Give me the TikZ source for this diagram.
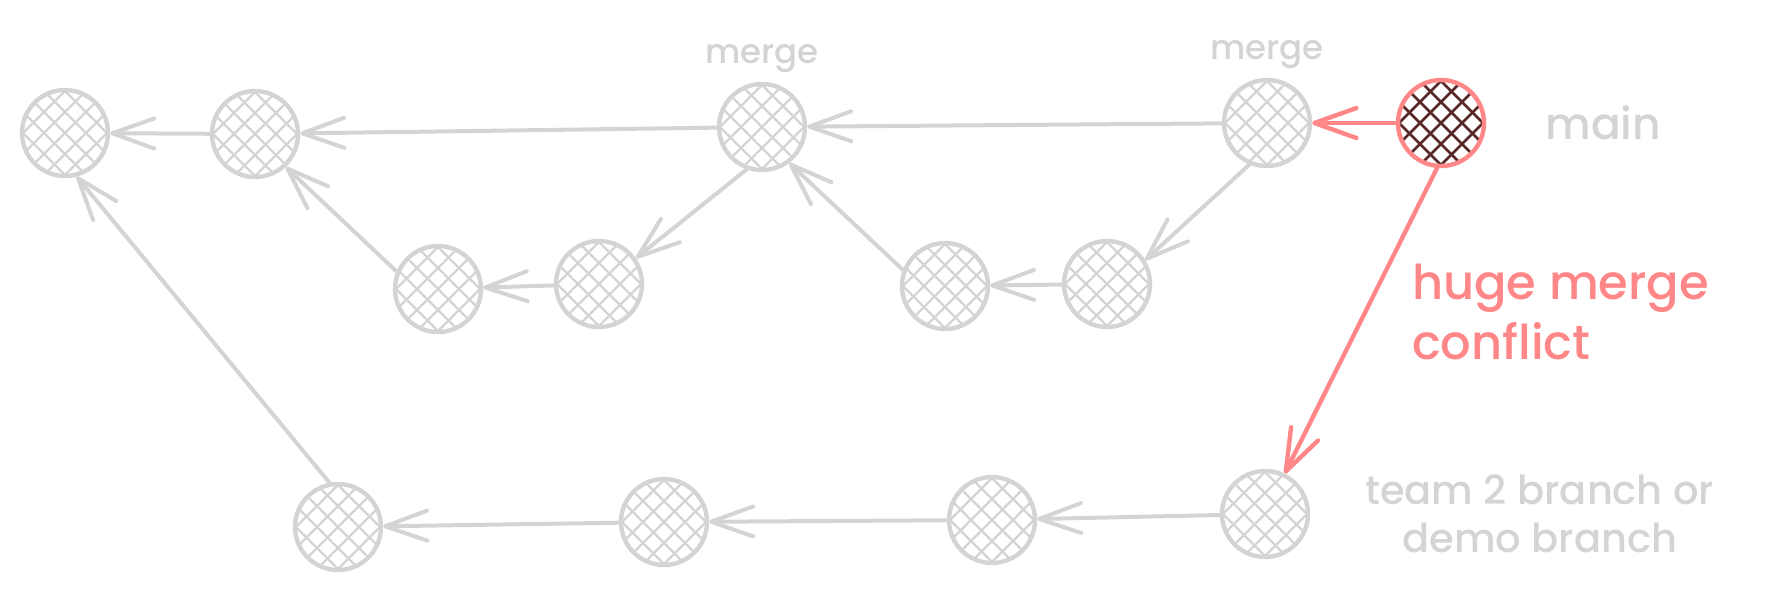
\documentclass[tikz,border=0pt]{standalone}
\usepackage{fontspec}
\setmainfont{Poppins}[UprightFont={* Medium}]
\usetikzlibrary{arrows.meta,positioning}
\definecolor{gitgrey}{RGB}{212,212,212}
\definecolor{gitred}{RGB}{255,135,135}
\definecolor{hatchdark}{RGB}{88,40,40}
% diagonal cross hatching inside a commit circle
\newcommand\commithatch[2]{%
  \foreach \k in {-63,-42,...,63}{
    \draw[#1, line width=#2] ([shift={(\k-60,-60)}]path picture bounding box.center) -- ++(120,120);
    \draw[#1, line width=#2] ([shift={(\k+60,-60)}]path picture bounding box.center) -- ++(-120,120);
  }}
\tikzset{
  commit/.style = {circle, draw=gitgrey, line width=2.2pt, minimum size=43pt,
                   inner sep=0pt, path picture={\commithatch{gitgrey}{1.1pt}}},
  head/.style   = {commit, draw=gitred, path picture={\commithatch{hatchdark}{1.3pt}}},
  lbl/.style    = {text=gitgrey, font=\fontsize{17}{20}\selectfont},
  conflict/.style = {text=gitred, align=left, font=\fontsize{24}{30}\selectfont},
  arr/.style    = {-{Straight Barb[round,length=21pt,width=15pt]}, draw=gitgrey,
                   line width=2pt, line cap=round},
  arrred/.style = {arr, draw=gitred, line width=2.2pt},
}
\begin{document}
\begin{tikzpicture}[x=0.5pt, y=-0.5pt]
  \useasboundingbox (0,0) rectangle (1780,596);
  % main line
  \node[commit] (t1) at (65,133) {};
  \node[commit] (t2) at (255,134) {};
  \node[commit] (t3) at (762,127) {};
  \node[commit] (t4) at (1267,123) {};
  \node[head]   (hd) at (1441,123) {};
  % feature branches
  \node[commit] (m1) at (438,289) {};
  \node[commit] (m2) at (599,284) {};
  \node[commit] (m3) at (945,286) {};
  \node[commit] (m4) at (1107,284) {};
  % team 2 branch
  \node[commit] (b1) at (338,527) {};
  \node[commit] (b2) at (664,522) {};
  \node[commit] (b3) at (992,520) {};
  \node[commit] (b4) at (1265,514) {};
  % labels
  \node[lbl, above=1pt of t3] (lm1) {merge};
  \node[lbl, above=1pt of t4] (lm2) {merge};
  \node[lbl, font=\fontsize{22}{26}\selectfont, right=26pt of hd] (lmain) {main};
  \node[lbl, align=center, font=\fontsize{20}{24}\selectfont, right=24pt of b4] (lteam) {team 2 branch or\\demo branch};
  \node[conflict, anchor=west] (lconf) at (1405,312) {huge merge\\conflict};
  % connectors
  \draw[arr] (t2) -- (t1);
  \draw[arr] (t3) -- (t2);
  \draw[arr] (t4) -- (t3);
  \draw[arrred] (hd) -- (t4);
  \draw[arr] (m1.157) -- (t2.313);
  \draw[arr] (m2) -- (m1);
  \draw[arr] (t3.250) -- (m2.35);
  \draw[arr] (m3.159) -- (t3.307);
  \draw[arr] (m4) -- (m3);
  \draw[arr] (t4.247) -- (m4.32);
  \draw[arrred] (hd.265) -- (b4.64);
  \draw[arr] (b4) -- (b3);
  \draw[arr] (b3) -- (b2);
  \draw[arr] (b2) -- (b1);
  \draw[arr] (b1.101) -- (t1.285);
\end{tikzpicture}
\end{document}
